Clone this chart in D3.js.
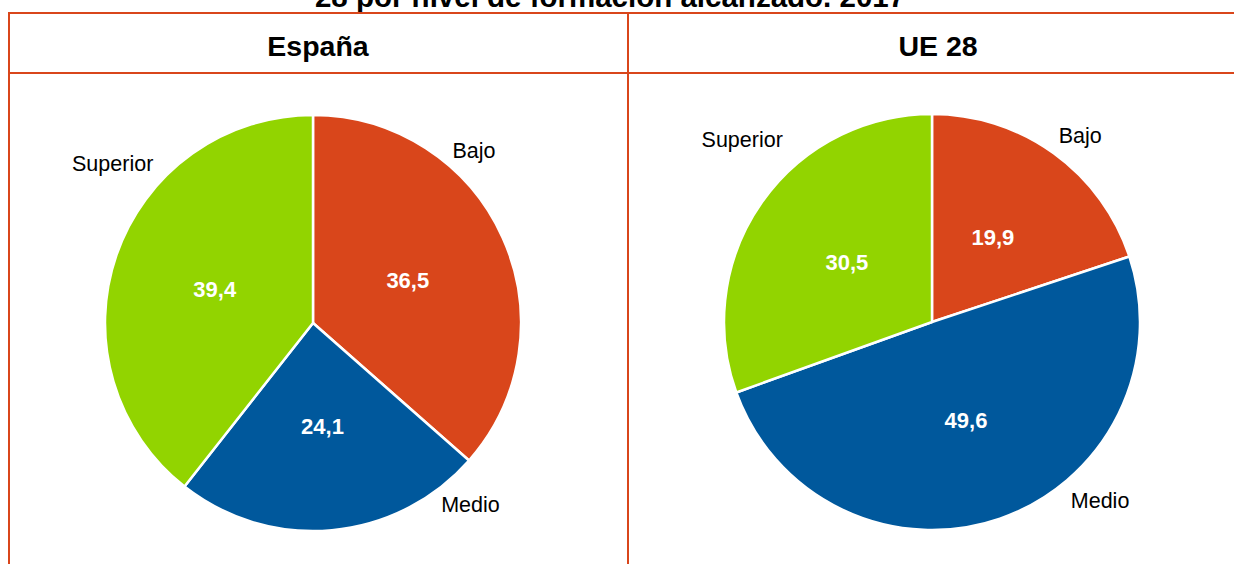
<!DOCTYPE html>
<html>
<head>
<meta charset="utf-8">
<script src="https://cdn.jsdelivr.net/npm/d3@7"></script>
<style>
  html, body { margin: 0; padding: 0; background: #fff; }
  svg { display: block; font-family: "Liberation Sans", Arial, sans-serif; }
</style>
</head>
<body>
<svg id="chart" width="1234" height="564"></svg>
<script>
// Education level shares (%) for each area
const levels = ["Bajo", "Medio", "Superior"];
const espana = [36.5, 24.1, 39.4];
const ue28 = [19.9, 49.6, 30.5];
const panelTitles = ["España", "UE 28"];
const chartTitle = "28 por nivel de formación alcanzado. 2017";

const colors = { Bajo: "#d9461b", Medio: "#00589c", Superior: "#92d400" };
const frameColor = "#d9461b";

// Panel layout: pie centre, radius and where each outer category label sits
// (label position given as [angle in degrees clockwise from top, distance])
const panels = [
  { values: espana, title: panelTitles[0], cx: 313, cy: 323, r: 208, headX: 318,
    labelPos: { Bajo: [43, 236], Medio: [139, 240], Superior: [308.5, 256] } },
  { values: ue28, title: panelTitles[1], cx: 932, cy: 322, r: 208, headX: 938,
    labelPos: { Bajo: [38.5, 238], Medio: [136.8, 245.5], Superior: [313.8, 263] } }
];

const svg = d3.select("#chart");

// Title (its first line runs above the visible area)
svg.append("text")
  .attr("x", 610).attr("y", 7)
  .attr("text-anchor", "middle")
  .attr("font-size", 29.5).attr("font-weight", "bold")
  .attr("fill", "#000")
  .text(chartTitle);

// Table frame
const frame = svg.append("g")
  .attr("stroke", frameColor).attr("stroke-width", 2).attr("fill", "none");
frame.append("line").attr("x1", 8.5).attr("x2", 1240).attr("y1", 13).attr("y2", 13);
frame.append("line").attr("x1", 8.5).attr("x2", 1240).attr("y1", 73).attr("y2", 73);
frame.append("line").attr("x1", 9).attr("x2", 9).attr("y1", 12).attr("y2", 570);
frame.append("line").attr("x1", 628).attr("x2", 628).attr("y1", 12).attr("y2", 570);

const pie = d3.pie().sort(null).value(d => d.value);

panels.forEach(p => {
  svg.append("text")
    .attr("x", p.headX).attr("y", 56)
    .attr("text-anchor", "middle")
    .attr("font-size", 28.5).attr("font-weight", "bold")
    .text(p.title);

  const data = levels.map((k, i) => ({ key: k, value: p.values[i] }));
  const arcs = pie(data);
  const arc = d3.arc().innerRadius(0).outerRadius(p.r);
  const inner = d3.arc().innerRadius(p.r * 0.5).outerRadius(p.r * 0.5);

  const g = svg.append("g").attr("transform", `translate(${p.cx},${p.cy})`);

  g.selectAll("path.slice").data(arcs).join("path")
    .attr("class", "slice")
    .attr("d", arc)
    .attr("fill", d => colors[d.data.key])
    .attr("stroke", "#fff").attr("stroke-width", 2.5)
    .attr("stroke-linejoin", "round");

  g.selectAll("text.val").data(arcs).join("text")
    .attr("class", "val")
    .attr("transform", d => `translate(${inner.centroid(d)})`)
    .attr("text-anchor", "middle").attr("dy", "0.35em")
    .attr("font-size", 22).attr("font-weight", "bold").attr("fill", "#fff")
    .text(d => d3.format(".1f")(d.data.value).replace(".", ","));

  g.selectAll("text.cat").data(arcs).join("text")
    .attr("class", "cat")
    .attr("transform", d => {
      const [deg, rad] = p.labelPos[d.data.key];
      const a = deg * Math.PI / 180;
      return `translate(${rad * Math.sin(a)},${-rad * Math.cos(a)})`;
    })
    .attr("text-anchor", "middle").attr("dy", "0.35em")
    .attr("font-size", 21.5).attr("fill", "#000")
    .text(d => d.data.key);
});
</script>
</body>
</html>
